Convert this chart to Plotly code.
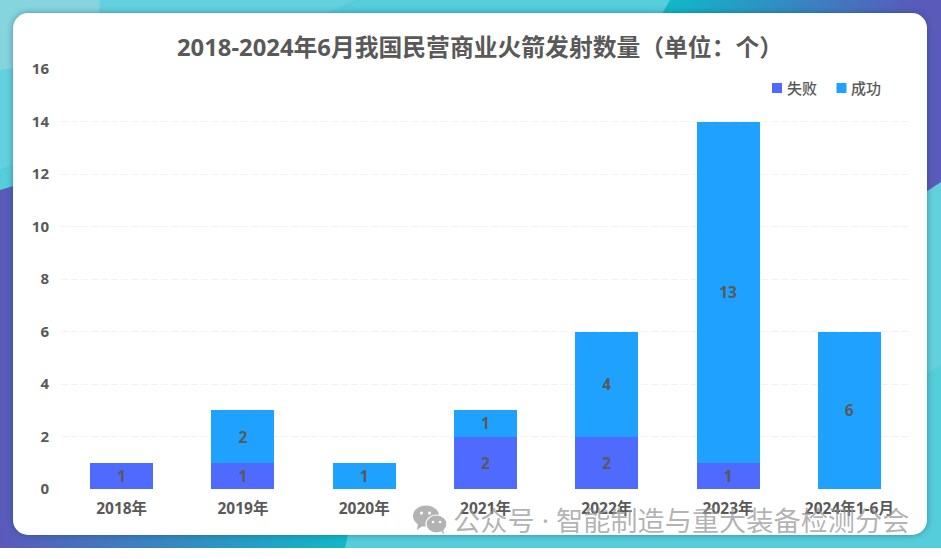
import base64
import plotly.graph_objects as go

title = "2018-2024年6月我国民营商业火箭发射数量（单位：个）"
watermark = "公众号 · 智能制造与重大装备检测分会"
categories = ["2018年", "2019年", "2020年", "2021年", "2022年", "2023年", "2024年1-6月"]
failed = [1, 1, None, 2, 2, 1, None]
succeeded = [None, 2, 1, 1, 4, 13, 6]
y_ticks = [0, 2, 4, 6, 8, 10, 12, 14, 16]

FAIL_C = "#4f6aff"
OK_C = "#1fa2ff"
TEXT_C = "#595959"
FONT = "Noto Sans, Noto Sans CJK SC, sans-serif"

W, H = 941, 559
L, R, T, B = 61, 31, 69, 70
PW, PH = W - L - R, H - T - B


def svg_uri(svg):
    return "data:image/svg+xml;base64," + base64.b64encode(svg.encode()).decode()


bg_svg = f'''<svg xmlns="http://www.w3.org/2000/svg" width="{W}" height="{H}" viewBox="0 0 {W} {H}">
<defs>
<linearGradient id="a" gradientUnits="userSpaceOnUse" x1="0" y1="0" x2="345" y2="0"><stop offset="0" stop-color="#5a5abb"/><stop offset="1" stop-color="#10b8c8"/></linearGradient>
<linearGradient id="b" gradientUnits="userSpaceOnUse" x1="670" y1="0" x2="915" y2="0"><stop offset="0" stop-color="#10b8c8"/><stop offset="1" stop-color="#5a5abb"/></linearGradient>
<filter id="s" x="-5%" y="-5%" width="110%" height="110%"><feGaussianBlur stdDeviation="3"/></filter>
</defs>
<rect x="0" y="0" width="{W}" height="548" fill="#55cddb"/>
<polygon points="0,0 355,0 0,170" fill="#62d1dd"/>
<polygon points="941,182 941,365 700,520 700,300" fill="#62d1dd"/>
<polygon points="0,0 100,0 97,40 70,60 0,70" fill="#85d5df"/>
<polygon points="0,190 200,130 400,300 345,548 0,548" fill="url(#a)"/>
<polygon points="670,0 941,0 941,182 700,340 600,120" fill="url(#b)"/>
<rect x="13" y="13" width="914" height="522" rx="15" ry="15" fill="#1a3a50" fill-opacity="0.45" filter="url(#s)"/>
<rect x="13" y="13" width="914" height="522" rx="15" ry="15" fill="#ffffff"/>
</svg>'''

icon_svg = '''<svg xmlns="http://www.w3.org/2000/svg" width="36" height="30" viewBox="0 0 36 30">
<ellipse cx="14" cy="11" rx="13" ry="10.5" fill="#b3b3b3"/>
<polygon points="6,18 5,25 12,20" fill="#b3b3b3"/>
<ellipse cx="24.5" cy="19" rx="10.5" ry="9" stroke="#ffffff" stroke-width="1.2" fill="#b3b3b3"/>
<polygon points="29,26 32,30 31,24" fill="#b3b3b3"/>
<circle cx="9.5" cy="8" r="1.6" fill="#fff"/><circle cx="17.5" cy="8" r="1.6" fill="#fff"/>
<circle cx="21" cy="17" r="1.3" fill="#fff"/><circle cx="28" cy="17" r="1.3" fill="#fff"/>
</svg>'''


def px(x):
    return (x - L) / PW


def py(y):
    return 1 - (y - T) / PH


fig = go.Figure()
for name, vals, col in (("失败", failed, FAIL_C), ("成功", succeeded, OK_C)):
    fig.add_trace(go.Bar(
        name=name, x=categories, y=vals, width=0.52,
        marker=dict(color=col, line=dict(width=0)),
        text=[str(v) if v else "" for v in vals],
        textposition="inside", insidetextanchor="middle", textangle=0,
        constraintext="none",
        textfont=dict(family=FONT, size=15.5, color=TEXT_C, weight="bold"),
    ))

shapes = []
annotations = [
    dict(text=title, xref="paper", yref="paper", x=px(479.5), y=py(47.5), xanchor="center", yanchor="middle",
         showarrow=False, font=dict(family=FONT, size=23.8, color=TEXT_C, weight="bold")),
    dict(text=watermark, xref="paper", yref="paper", x=px(911), y=py(520), xanchor="right", yanchor="middle",
         showarrow=False, font=dict(family=FONT, size=27.2, color="rgba(150,150,150,0.72)")),
]
for name, col, sx, tx in (("失败", FAIL_C, 772, 785), ("成功", OK_C, 836.5, 849)):
    shapes.append(dict(type="rect", xref="paper", yref="paper", x0=px(sx), x1=px(sx + 10), y0=py(93), y1=py(83),
                       fillcolor=col, line=dict(width=0)))
    annotations.append(dict(text=name, xref="paper", yref="paper", x=px(tx), y=py(88), xanchor="left", yanchor="middle",
                            showarrow=False, font=dict(family=FONT, size=15, color=TEXT_C, weight=500)))

fig.update_layout(
    width=W, height=H, autosize=False, barmode="stack", showlegend=False,
    margin=dict(l=L, r=R, t=T, b=B, pad=0),
    paper_bgcolor="#ffffff", plot_bgcolor="rgba(0,0,0,0)",
    font=dict(family=FONT, color=TEXT_C),
    shapes=shapes, annotations=annotations,
    images=[
        dict(source=svg_uri(bg_svg), xref="paper", yref="paper", x=-L / PW, y=1 + T / PH,
             sizex=W / PW, sizey=H / PH, sizing="stretch", xanchor="left", yanchor="top", layer="below"),
        dict(source=svg_uri(icon_svg), xref="paper", yref="paper", x=px(412), y=py(505),
             sizex=36 / PW, sizey=30 / PH, sizing="stretch", xanchor="left", yanchor="top", layer="above"),
    ],
    xaxis=dict(showgrid=False, zeroline=False, showline=False, ticks="outside", ticklen=5, tickcolor="rgba(0,0,0,0)",
               tickfont=dict(family=FONT, size=15.5, color=TEXT_C, weight="bold"), tickangle=0),
    yaxis=dict(range=[0, 16], tickvals=y_ticks, zeroline=False, showline=False,
               showgrid=True, gridcolor="#f2f2f2", gridwidth=1, griddash="7px,3px",
               ticks="outside", ticklen=8, tickcolor="rgba(0,0,0,0)",
               tickfont=dict(family=FONT, size=15, color=TEXT_C, weight="bold")),
)

fig.write_html("out.html", config=dict(displayModeBar=False),
               post_script="document.body.style.margin='0';")
